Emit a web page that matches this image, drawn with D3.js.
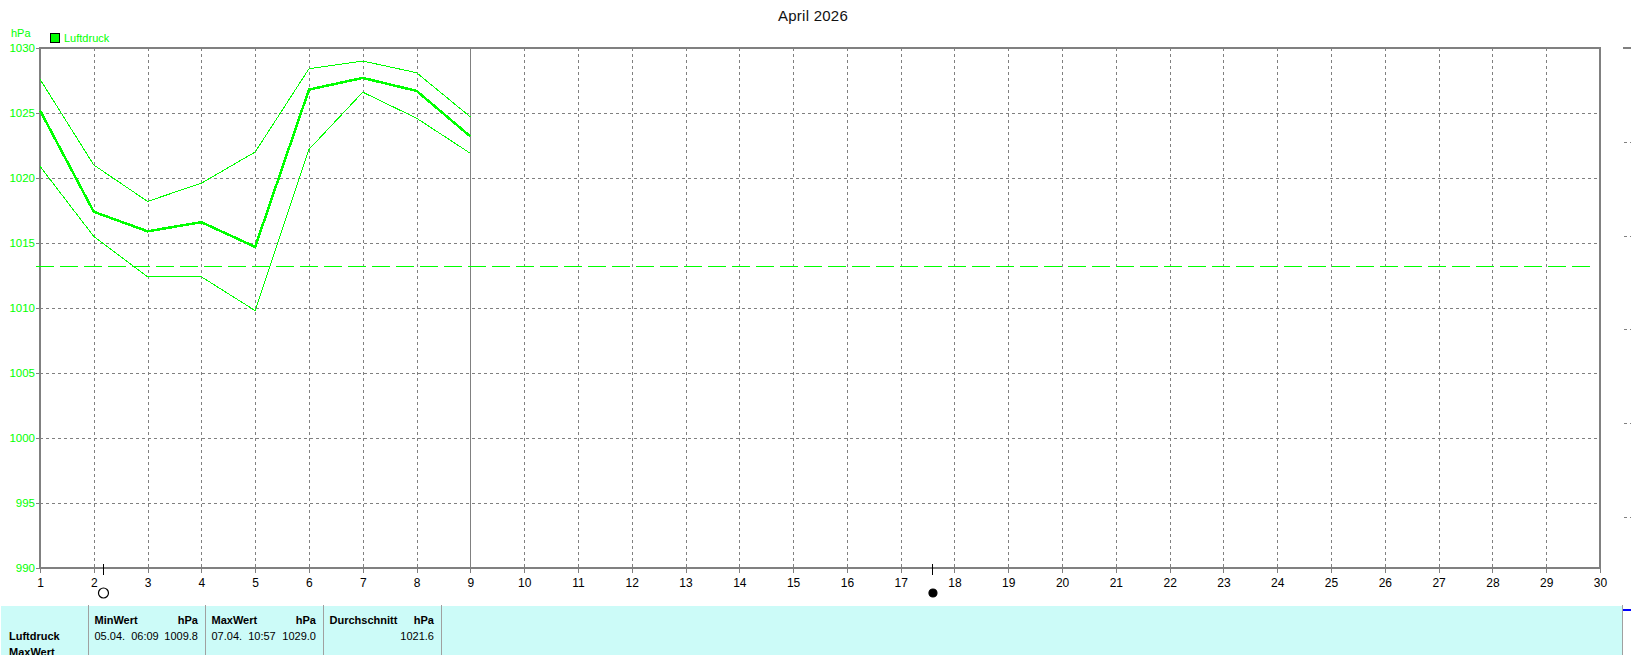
<!DOCTYPE html>
<html>
<head>
<meta charset="utf-8">
<title>Luftdruck April 2026</title>
<script src="https://cdn.jsdelivr.net/npm/d3@7"></script>
<style>
  html, body { margin: 0; padding: 0; background: #fff; overflow: hidden; }
  svg { display: block; }
  text { font-family: "Liberation Sans", Arial, sans-serif; font-size: 11px; }
  line, path, rect { shape-rendering: crispEdges; }
</style>
</head>
<body>
<div id="chart"></div>
<script>
// Data
var days = [1, 2, 3, 4, 5, 6, 7, 8, 9];
var pressureMean = [1025.2, 1017.4, 1015.9, 1016.6, 1014.7, 1026.8, 1027.7, 1026.7, 1023.2];
var pressureMax = [1027.6, 1021.0, 1018.2, 1019.6, 1022.0, 1028.4, 1029.0, 1028.1, 1024.7];
var pressureMin = [1020.9, 1015.5, 1012.4, 1012.4, 1009.8, 1022.2, 1026.6, 1024.6, 1021.9];
var referenceLine = 1013.2;
var dayTicks = d3.range(1, 31);
var pressureTicks = [990, 995, 1000, 1005, 1010, 1015, 1020, 1025, 1030];
var moonDays = [2.18, 17.6];
var moonFilled = [false, true];
var lastDay = 9;

// Stats table at the bottom
var statHeads = ["MinWert", "MaxWert", "Durchschnitt"];
var statDates = ["05.04.  06:09", "07.04.  10:57", ""];
var statValues = ["1009.8", "1029.0", "1021.6"];
var rowLabels = ["Luftdruck", "MaxWert"];

// Set up our chart area
//================================
var svgWidth = 1631;
var svgHeight = 655;
var margin = { top: 48, right: 31, bottom: 87, left: 40 };
var width = svgWidth - margin.left - margin.right;
var height = svgHeight - margin.top - margin.bottom;

var green = "#00ff00";
var gray = "#808080";

var svg = d3.select("#chart").append("svg")
  .attr("width", svgWidth)
  .attr("height", svgHeight);

var chartGroup = svg.append("g")
  .attr("transform", `translate(${margin.left}, ${margin.top})`);

var xScale = d3.scaleLinear().domain([1, 30]).range([0, width]);
var yScale = d3.scaleLinear().domain([990, 1030]).range([height, 0]);

// Grid
chartGroup.selectAll(".vgrid")
  .data(dayTicks.slice(1, -1))
  .enter().append("line")
  .attr("x1", d => xScale(d) + 0.5).attr("x2", d => xScale(d) + 0.5)
  .attr("y1", 0).attr("y2", height)
  .attr("stroke", gray).attr("stroke-dasharray", "3 3");

chartGroup.selectAll(".hgrid")
  .data(pressureTicks.slice(1, -1))
  .enter().append("line")
  .attr("x1", 0).attr("x2", width)
  .attr("y1", d => yScale(d) + 0.5).attr("y2", d => yScale(d) + 0.5)
  .attr("stroke", gray).attr("stroke-dasharray", "3 3");

// Today marker
chartGroup.append("line")
  .attr("x1", xScale(lastDay) + 0.5).attr("x2", xScale(lastDay) + 0.5)
  .attr("y1", 0).attr("y2", height)
  .attr("stroke", gray);

// Axes
var bottomAxis = d3.axisBottom(xScale).tickValues(dayTicks).tickFormat(d3.format("d")).tickSize(5).tickPadding(5);
var leftAxis = d3.axisLeft(yScale).tickValues(pressureTicks).tickFormat(d3.format("d")).tickSize(4).tickPadding(1);

var xAxisGroup = chartGroup.append("g")
  .attr("transform", `translate(0, ${height})`)
  .call(bottomAxis);
xAxisGroup.select(".domain").remove();
xAxisGroup.selectAll("line").attr("stroke", gray);
xAxisGroup.selectAll("text").attr("fill", "#000").style("font-size", "12px");

var yAxisGroup = chartGroup.append("g").call(leftAxis);
yAxisGroup.select(".domain").remove();
yAxisGroup.selectAll("line").attr("stroke", gray);
yAxisGroup.selectAll("text").attr("fill", green).style("font-size", "11.5px");

// Plot frame
chartGroup.append("rect")
  .attr("x", 0).attr("y", 0)
  .attr("width", width).attr("height", height)
  .attr("fill", "none").attr("stroke", gray).attr("stroke-width", 2);

// Average line
chartGroup.append("line")
  .attr("x1", -4).attr("x2", xScale(30) - 10)
  .attr("y1", yScale(referenceLine)).attr("y2", yScale(referenceLine))
  .attr("stroke", green).attr("stroke-dasharray", "18 6");

// Pressure lines
var line = d3.line()
  .x((d, i) => xScale(days[i]))
  .y(d => yScale(d));

chartGroup.append("path").attr("d", line(pressureMax))
  .attr("fill", "none").attr("stroke", green).attr("stroke-width", 1);
chartGroup.append("path").attr("d", line(pressureMin))
  .attr("fill", "none").attr("stroke", green).attr("stroke-width", 1);
chartGroup.append("path").attr("d", line(pressureMean))
  .attr("fill", "none").attr("stroke", green).attr("stroke-width", 2.5);

// Moon phases
chartGroup.selectAll(".moonTick")
  .data(moonDays)
  .enter().append("line")
  .attr("x1", d => xScale(d)).attr("x2", d => xScale(d))
  .attr("y1", height - 4).attr("y2", height + 7)
  .attr("stroke", "#000");

chartGroup.selectAll(".moon")
  .data(moonDays)
  .enter().append("circle")
  .attr("cx", d => xScale(d))
  .attr("cy", height + 25)
  .attr("r", (d, i) => moonFilled[i] ? 4 : 5)
  .attr("fill", (d, i) => moonFilled[i] ? "#000" : "none")
  .attr("stroke", "#000")
  .attr("stroke-width", 1.2);

// Title and legend
svg.append("text")
  .attr("x", 813).attr("y", 21)
  .attr("text-anchor", "middle")
  .attr("fill", "#111")
  .style("font-size", "15px")
  .style("letter-spacing", "0.25px")
  .text("April 2026");

svg.append("text").attr("x", 11).attr("y", 37).attr("fill", green).style("font-size", "11px").text("hPa");
svg.append("rect").attr("x", 50.5).attr("y", 33.5).attr("width", 9).attr("height", 9)
  .attr("fill", green).attr("stroke", "#000");
svg.append("text").attr("x", 64).attr("y", 42).attr("fill", green).text("Luftdruck");

// Scale stubs of the cut-off second chart at the right edge
var stubTicks = [142.5, 236.5, 329.5, 423.5, 517.5];
svg.append("line").attr("x1", 1623).attr("x2", 1631).attr("y1", 48).attr("y2", 48)
  .attr("stroke", gray).attr("stroke-width", 2);
svg.selectAll(".stub")
  .data(stubTicks)
  .enter().append("line")
  .attr("x1", 1624).attr("x2", 1631)
  .attr("y1", d => d).attr("y2", d => d)
  .attr("stroke", gray).attr("stroke-dasharray", "3 3");

// Stats panel
var panelTop = 606;
var separators = [88, 205, 323, 441];
svg.append("rect")
  .attr("x", 1).attr("y", panelTop)
  .attr("width", 1621).attr("height", svgHeight - panelTop)
  .attr("fill", "#ccfbf8");

svg.selectAll(".sep")
  .data(separators.concat([1622]))
  .enter().append("line")
  .attr("x1", d => d + 0.5).attr("x2", d => d + 0.5)
  .attr("y1", panelTop - 1).attr("y2", svgHeight)
  .attr("stroke", "#a0a0a0");

svg.append("line").attr("x1", 1623).attr("x2", 1631).attr("y1", 610).attr("y2", 610)
  .attr("stroke", "#0000ff").attr("stroke-width", 2);

rowLabels.forEach(function(label, i) {
  svg.append("text")
    .attr("x", 9).attr("y", 640 + i * 16)
    .style("font-weight", "bold")
    .text(label);
});

statHeads.forEach(function(head, i) {
  var left = separators[i] + 6.5;
  var right = separators[i + 1] - 7;
  svg.append("text").attr("x", left).attr("y", 624).style("font-weight", "bold").text(head);
  svg.append("text").attr("x", right).attr("y", 624).attr("text-anchor", "end")
    .style("font-weight", "bold").text("hPa");
  svg.append("text").attr("x", left).attr("y", 640).attr("xml:space", "preserve")
    .style("white-space", "pre").text(statDates[i]);
  svg.append("text").attr("x", right).attr("y", 640).attr("text-anchor", "end").text(statValues[i]);
});
</script>
</body>
</html>
